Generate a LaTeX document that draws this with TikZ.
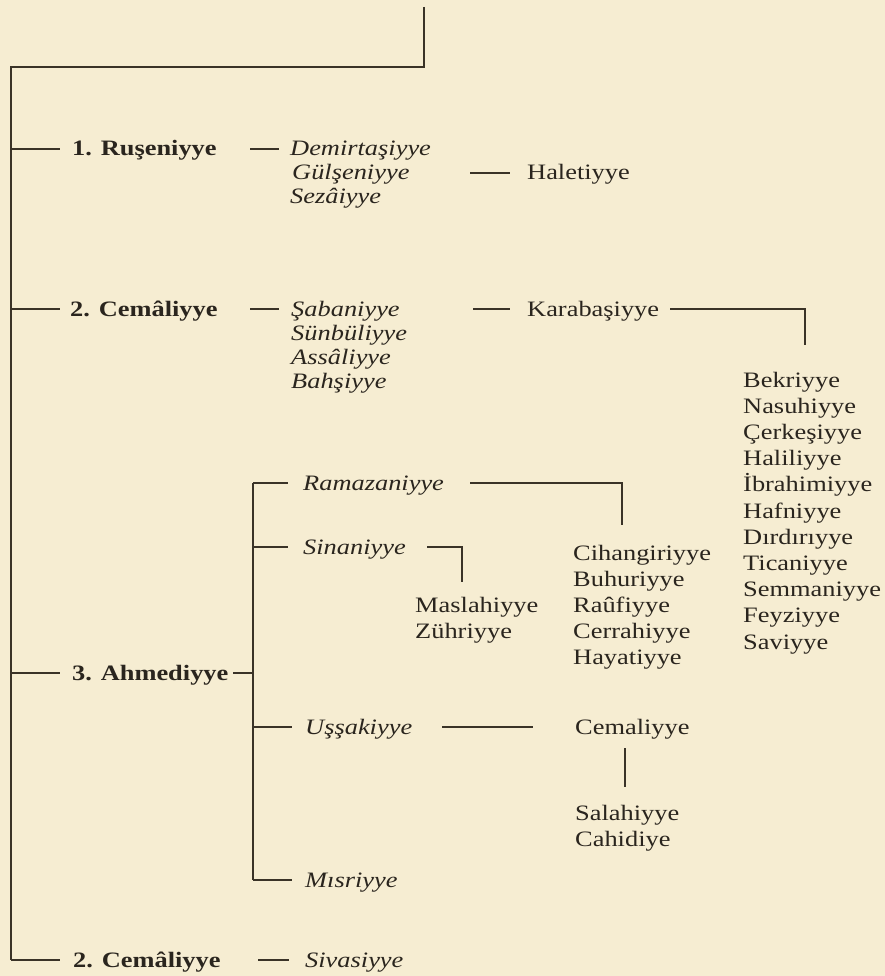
\documentclass[tikz,border=0pt]{standalone}
\usepackage{fontspec}
\setmainfont{Liberation Serif}[FakeStretch=1.2]
\definecolor{paper}{HTML}{F6EDD2}
\definecolor{ink}{HTML}{3A3327}
\definecolor{txt}{HTML}{2A251E}
\tikzset{
  lbl/.style={inner sep=0pt, anchor=base west, text=txt, font=\fontsize{22}{26}\selectfont},
  bld/.style={lbl, font=\fontsize{22}{26}\selectfont\bfseries},
  itl/.style={lbl, font=\fontsize{22}{26}\selectfont\itshape},
  ln/.style={draw=ink, line width=1.8pt},
}
\begin{document}
\begin{tikzpicture}[x=1pt,y=-1pt]
\fill[paper] (0,0) rectangle (885,976);
\useasboundingbox (0,0) rectangle (885,976);

% spine
\coordinate (top) at (424,7);
\coordinate (tl) at (11,67);
\coordinate (bl) at (11,960);
\draw[ln] (top) |- (tl) -- (bl);

% ---- 1. Ruseniyye
\node[bld] (rus) at (72,156) {1. Ruşeniyye};
\draw[ln] (11,149) coordinate (s1a) -- (60,149) coordinate (s1b);
\draw[ln] (250,149) coordinate (d1a) -- (279,149) coordinate (d1b);
\node[itl] (dem) at (290,156) {Demirtaşiyye};
\node[itl] (gul) at (292,180) {Gülşeniyye};
\node[itl] (sez) at (290,204) {Sezâiyye};
\draw[ln] (470,173) coordinate (h1a) -- (510,173) coordinate (h1b);
\node[lbl] (hal) at (527,180) {Haletiyye};

% ---- 2. Cemaliyye
\node[bld] (cem) at (70,316) {2. Cemâliyye};
\draw[ln] (11,309) coordinate (s2a) -- (60,309) coordinate (s2b);
\draw[ln] (250,309) coordinate (d2a) -- (279,309) coordinate (d2b);
\node[itl] (sab) at (291,316) {Şabaniyye};
\node[itl] (sun) at (291,340) {Sünbüliyye};
\node[itl] (ass) at (291,364) {Assâliyye};
\node[itl] (bah) at (291,388) {Bahşiyye};
\draw[ln] (473,309) coordinate (k1a) -- (510,309) coordinate (k1b);
\node[lbl] (kar) at (527,316) {Karabaşiyye};
\draw[ln] (670,309) coordinate (k2a) -| (805,345) coordinate (k2b);
\foreach \t [count=\i from 0] in {Bekriyye,Nasuhiyye,Çerkeşiyye,Haliliyye,İbrahimiyye,Hafniyye,Dırdırıyye,Ticaniyye,Semmaniyye,Feyziyye,Saviyye}
  \node[lbl] (bek\i) at (743,{387+\i*26.2}) {\t};

% ---- 3. Ahmediyye
\node[bld] (ahm) at (72,680) {3. Ahmediyye};
\draw[ln] (11,673) coordinate (s3a) -- (60,673) coordinate (s3b);
\draw[ln] (233,673) coordinate (d3a) -- (253,673) coordinate (d3b);
\coordinate (subt) at (253,483);
\coordinate (subb) at (253,880);
\draw[ln] (subt) -- (subb);

\draw[ln] (subt) -- (288,483);
\node[itl] (ram) at (303,490) {Ramazaniyye};
\draw[ln] (470,483) coordinate (r1a) -| (622,525) coordinate (r1b);
\foreach \t [count=\i from 0] in {Cihangiriyye,Buhuriyye,Raûfiyye,Cerrahiyye,Hayatiyye}
  \node[lbl] (cih\i) at (573,{560+\i*26}) {\t};

\draw[ln] (253,547) coordinate (sn0) -- (288,547);
\node[itl] (sin) at (303,554) {Sinaniyye};
\draw[ln] (427,547) coordinate (sn1) -| (462,582) coordinate (sn2);
\node[lbl] (mas) at (415,612) {Maslahiyye};
\node[lbl] (zuh) at (415,638) {Zühriyye};

\draw[ln] (253,727) coordinate (us0) -- (292,727);
\node[itl] (uss) at (305,734) {Uşşakiyye};
\draw[ln] (442,727) coordinate (us1) -- (533,727) coordinate (us2);
\node[lbl] (cml) at (575,734) {Cemaliyye};
\draw[ln] (625,748) coordinate (cv1) -- (625,787) coordinate (cv2);
\node[lbl] (sal) at (575,820) {Salahiyye};
\node[lbl] (cah) at (575,846) {Cahidiye};

\draw[ln] (subb) -- (292,880);
\node[itl] (mis) at (305,887) {Mısriyye};

% ---- bottom 2. Cemaliyye
\draw[ln] (bl) -- (60,960) coordinate (s4b);
\node[bld] (cem2) at (73,967) {2. Cemâliyye};
\draw[ln] (258,960) coordinate (d4a) -- (289,960) coordinate (d4b);
\node[itl] (siv) at (305,967) {Sivasiyye};
\end{tikzpicture}
\end{document}
